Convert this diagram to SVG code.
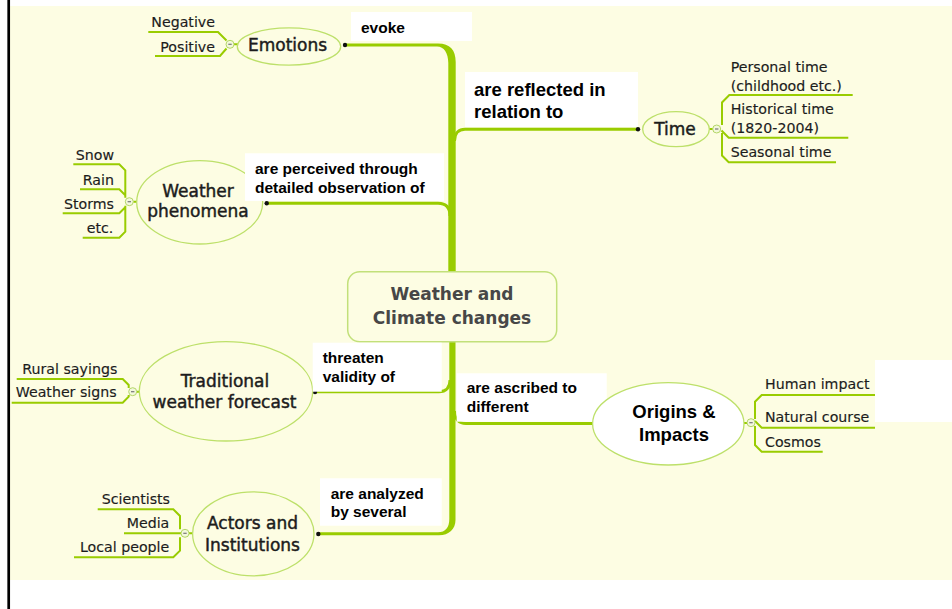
<svg xmlns="http://www.w3.org/2000/svg" width="952" height="609" viewBox="0 0 952 609">
  <style>
    .canvas { fill: #fdfde3; }
    .branch { fill: none; stroke: #99cc00; stroke-width: 3; }
    .trunk { fill: #99cc00; }
    .leaf { fill: none; stroke: #99cc00; stroke-width: 2; }
    .bubble { fill: #fdfde3; stroke: #bde06a; stroke-width: 1.3; }
    .toggle { fill: #f3f8dc; stroke: #b3d766; stroke-width: 1; }
    .minus { stroke: #777; stroke-width: 1.2; }
    .dot { fill: #111; }
    .tag { fill: #ffffff; }
    .topic { font-family: "DejaVu Sans", "Liberation Sans", sans-serif; font-size: 17px; fill: #1c1c1c; stroke: #1c1c1c; stroke-width: 0.45px; text-anchor: middle; }
    .item { font-family: "DejaVu Sans", "Liberation Sans", sans-serif; font-size: 14.2px; fill: #1c1c1c; stroke: #1c1c1c; stroke-width: 0.15px; }
    .end { text-anchor: end; }
    .label { font-family: "Liberation Sans", Arial, sans-serif; font-weight: bold; font-size: 15.5px; fill: #000; }
    .big { font-size: 18.5px; }
  </style>

  <!-- page -->
  <rect x="0" y="0" width="952" height="609" fill="#ffffff"/>
  <rect class="canvas" x="10" y="6" width="942" height="574"/>
  <line x1="8.7" y1="0" x2="8.7" y2="609" stroke="#000" stroke-width="2.7"/>

  <!-- connectors -->
  <g id="connectors">
    <!-- central trunk with rounded ends -->
    <path class="trunk" d="M345,43.5 H438 C450,43.5 455.7,50 455.7,62 V300 H448.3 V63 C448.3,53 444,46.5 437,46.5 H345 Z"/>
    <path class="trunk" d="M455.5,300 V520 C455.5,529 449,535.3 439,535.3 H318 V532.3 H438 C445.5,532.3 449.3,527.5 449.3,519 V300 Z"/>
    <!-- side branches -->
    <path class="branch" d="M266.7,203.3 H438 C446,203.3 450,208 450,216"/>
    <path class="branch" d="M638,129.3 H465 C459,129.3 454.5,133 454.5,141"/>
    <path class="branch" d="M315,391.7 H439 C446,391.7 450,387.5 450,380"/>
    <path class="branch" d="M592.7,423.5 H466 C459,423.5 454.5,419 454.5,411"/>
    <!-- end points -->
    <circle class="dot" cx="345" cy="45" r="2.2"/>
    <circle class="dot" cx="638" cy="129.3" r="2.2"/>
    <circle class="dot" cx="266.7" cy="203.3" r="2.2"/>
    <circle class="dot" cx="315" cy="392" r="2.2"/>
    <circle class="dot" cx="318.3" cy="534" r="2.2"/>

    <!-- sub-topic lines -->
    <path class="leaf" d="M148.3,32 H218 L226.5,40.5 M155,56 H220 L226.5,48.5 M234,44.3 H238"/>
    <path class="leaf" d="M852.7,95 H729.3 L722,102.5 V125 M848.3,137.7 H728.7 L721.5,130.5 M836,162.3 H728.7 L722,155.5 V133 M709,129 H713"/>
    <path class="leaf" d="M73.3,164.3 H119.3 L125.3,170.3 V197.7 M80,189.3 H119.3 L125.3,195.3 M62.7,213.3 H119.3 L125.3,207.3 M82.7,237.7 H119.3 L125.3,231.7 V205.7 M133.3,201.7 H137"/>
    <path class="leaf" d="M16.7,379 H122.7 L128.7,385 V388 M11.7,402.7 H122.7 L128.7,396.7 V395 M136.7,391.7 H139.5"/>
    <path class="leaf" d="M875,395 H761.7 L755,401.7 V419 M875,427.7 H761.7 L755,421 M822.7,451.7 H761.7 L755,445 V426 M744,423 H747"/>
    <path class="leaf" d="M97.7,509.3 H173.3 L180,516 V529.3 M124,533.3 H181 M74,557.3 H173.3 L180,550.6 V537.3 M189,533.3 H193"/>
  </g>

  <!-- central topic -->
  <g id="central">
    <rect x="347.7" y="271.7" width="209" height="70" rx="12" fill="#fdfde3" stroke="#c2e07a" stroke-width="1.5"/>
    <text x="452" y="300" font-family="'DejaVu Sans', 'Liberation Sans', sans-serif" font-weight="bold" font-size="17" fill="#474747" text-anchor="middle">Weather and</text>
    <text x="452" y="324.3" font-family="'DejaVu Sans', 'Liberation Sans', sans-serif" font-weight="bold" font-size="17" fill="#474747" text-anchor="middle">Climate changes</text>
  </g>

  <g id="emotions">
    <ellipse class="bubble" cx="289" cy="46.5" rx="51.7" ry="18.7"/>
    <text class="topic" x="287.5" y="50.5">Emotions</text>
    <circle class="toggle" cx="230" cy="44.3" r="4"/>
    <line class="minus" x1="228.3" y1="44.3" x2="231.7" y2="44.3"/>
    <text class="item end" x="215" y="27">Negative</text>
    <text class="item end" x="215" y="51.5">Positive</text>
  </g>

  <g id="time">
    <ellipse class="bubble" cx="676" cy="129.2" rx="33.3" ry="17.5"/>
    <text class="topic" x="675" y="135">Time</text>
    <circle class="toggle" cx="716.7" cy="129" r="4"/>
    <line class="minus" x1="715" y1="129" x2="718.4" y2="129"/>
    <text class="item" x="730.7" y="71.7">Personal time</text>
    <text class="item" x="730.7" y="90.7">(childhood etc.)</text>
    <text class="item" x="730.7" y="114">Historical time</text>
    <text class="item" x="730.7" y="133.3">(1820-2004)</text>
    <text class="item" x="730.7" y="156.7">Seasonal time</text>
  </g>

  <g id="weather-phenomena">
    <ellipse class="bubble" cx="199.7" cy="202.3" rx="63" ry="41.7"/>
    <text class="topic" x="198" y="197.3">Weather</text>
    <text class="topic" x="198" y="216.5">phenomena</text>
    <circle class="toggle" cx="129.3" cy="201.7" r="4"/>
    <line class="minus" x1="127.6" y1="201.7" x2="131" y2="201.7"/>
    <text class="item end" x="114" y="160.3">Snow</text>
    <text class="item end" x="114" y="184.5">Rain</text>
    <text class="item end" x="114" y="208.5">Storms</text>
    <text class="item end" x="113.3" y="233">etc.</text>
  </g>

  <g id="traditional-forecast">
    <ellipse class="bubble" cx="226" cy="391.3" rx="86.7" ry="49.7"/>
    <text class="topic" x="225" y="386.7">Traditional</text>
    <text class="topic" x="224.5" y="407.7">weather forecast</text>
    <circle class="toggle" cx="132.7" cy="391.7" r="4"/>
    <line class="minus" x1="131" y1="391.7" x2="134.4" y2="391.7"/>
    <text class="item end" x="117.3" y="373.5">Rural sayings</text>
    <text class="item end" x="116.7" y="396.7">Weather signs</text>
  </g>

  <g id="actors-institutions">
    <ellipse class="bubble" cx="253.3" cy="533.8" rx="60.7" ry="42"/>
    <text class="topic" x="252.5" y="529">Actors and</text>
    <text class="topic" x="252.5" y="550.7">Institutions</text>
    <circle class="toggle" cx="185" cy="533.3" r="4"/>
    <line class="minus" x1="183.3" y1="533.3" x2="186.7" y2="533.3"/>
    <text class="item end" x="170" y="504.3">Scientists</text>
    <text class="item end" x="169.3" y="528.3">Media</text>
    <text class="item end" x="169.3" y="551.7">Local people</text>
  </g>

  <!-- connector labels -->
  <g id="labels">
    <rect class="tag" x="351" y="12" width="121" height="29"/>
    <text class="label" x="361" y="33">evoke</text>

    <rect class="tag" x="465" y="72" width="173" height="55"/>
    <text class="label big" x="474" y="96">are reflected in</text>
    <text class="label big" x="474" y="117.7">relation to</text>

    <rect class="tag" x="245" y="153.3" width="199" height="47.7"/>
    <text class="label" x="255" y="174">are perceived through</text>
    <text class="label" x="255" y="193.3">detailed observation of</text>

    <rect class="tag" x="312.7" y="342.7" width="129" height="49"/>
    <text class="label" x="322.7" y="363.3">threaten</text>
    <text class="label" x="322.7" y="382">validity of</text>

    <rect class="tag" x="456.7" y="373.3" width="150" height="48.4"/>
    <text class="label" x="466.7" y="393.3">are ascribed to</text>
    <text class="label" x="466.7" y="411.7">different</text>

    <rect class="tag" x="320" y="478.3" width="121.7" height="47.4"/>
    <text class="label" x="330.7" y="498.7">are analyzed</text>
    <text class="label" x="330.7" y="517.3">by several</text>

    <rect class="tag" x="875" y="360" width="77" height="62"/>
  </g>

  <!-- white topic drawn over its neighbouring label box -->
  <g id="origins-impacts">
    <ellipse cx="668.3" cy="423.8" rx="75.7" ry="41.2" fill="#ffffff" stroke="#bde06a" stroke-width="1.3"/>
    <text class="label big" x="674" y="418.3" text-anchor="middle">Origins &amp;</text>
    <text class="label big" x="674" y="440.7" text-anchor="middle">Impacts</text>
    <circle class="toggle" cx="751" cy="422.7" r="4"/>
    <line class="minus" x1="749.3" y1="422.7" x2="752.7" y2="422.7"/>
    <text class="item" x="765" y="389.3">Human impact</text>
    <text class="item" x="765" y="422.3">Natural course</text>
    <text class="item" x="765" y="446.7">Cosmos</text>
  </g>
</svg>
